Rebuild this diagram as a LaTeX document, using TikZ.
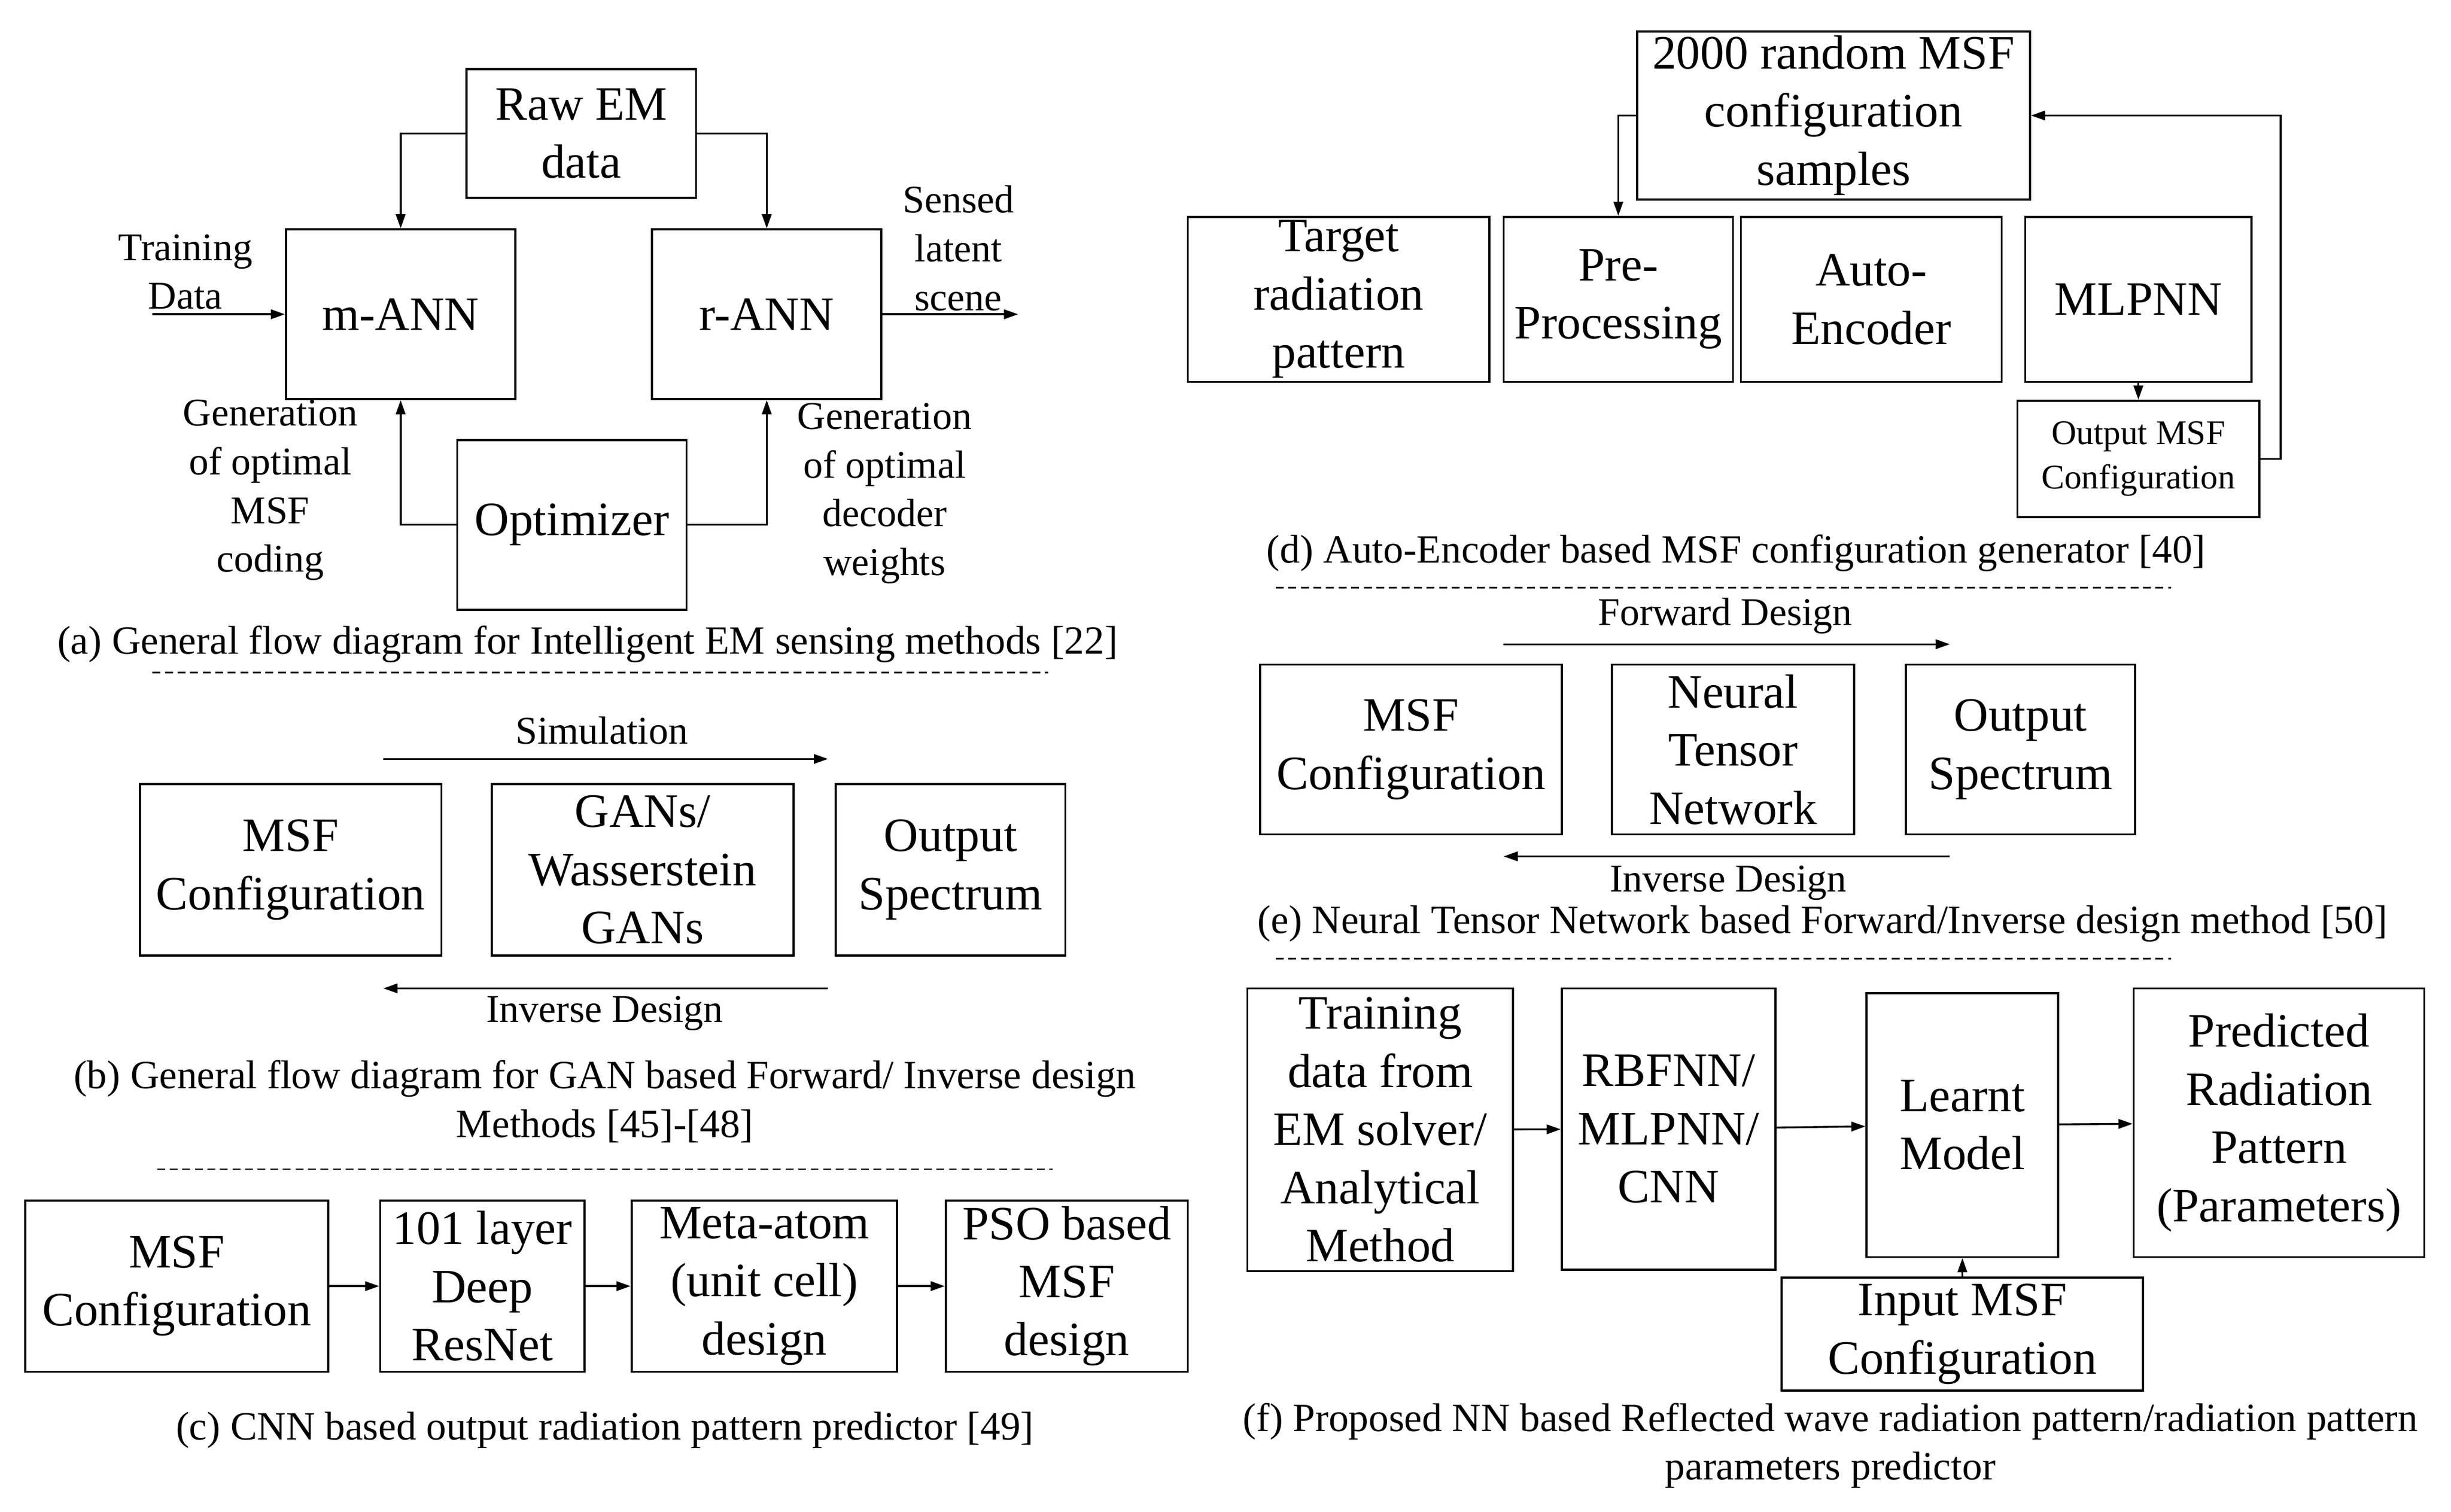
\documentclass[tikz,border=0pt]{standalone}
\usepackage{fontspec}
\setmainfont{Liberation Serif}
\usetikzlibrary{arrows.meta}
\begin{document}
\begin{tikzpicture}[x=1pt,y=-1pt,
  box/.style={draw,line width=1.3pt,align=center,inner sep=0pt,font=\fontsize{30.5}{37}\selectfont},
  lab/.style={align=center,inner sep=0pt,font=\fontsize{25}{31}\selectfont},
  capt/.style={align=center,inner sep=0pt,font=\fontsize{25.5}{31}\selectfont},
  ar/.style={line width=1.2pt,-{Triangle[length=9pt,width=6pt]}},
  dsh/.style={line width=1pt,dash pattern=on 5pt off 3pt}]
\useasboundingbox (0,0) rectangle (1560,962);
% (a)
\node[box,minimum width=146,minimum height=82] (raw) at (370,85) {Raw EM\\data};
\node[box,minimum width=146,minimum height=108] (mann) at (255,200) {m-ANN};
\node[box,minimum width=146,minimum height=108] (rann) at (488,200) {r-ANN};
\node[box,minimum width=146,minimum height=108] (opt) at (364,334) {Optimizer};
\draw[ar] (raw.west) -| (mann.north);
\draw[ar] (raw.east) -| (rann.north);
\draw[ar] (opt.west) -| (mann.south);
\draw[ar] (opt.east) -| (rann.south);
\coordinate (tin) at (97,200);
\coordinate (sout) at (648,200);
\draw[ar] (tin) -- (mann.west);
\draw[ar] (rann.east) -- (sout);
\node[lab] (tl) at (118,173) {Training\\Data};
\node[lab] (sl) at (610,158) {Sensed\\latent\\scene};
\node[lab] (gl) at (172,312) {Generation\\of optimal\\MSF\\coding};
\node[lab] (gr) at (563,314) {Generation\\of optimal\\decoder\\weights};
\node[capt] (capa) at (374,410) {(a) General flow diagram for Intelligent EM sensing methods [22]};
\draw[dsh] (97,428) -- (667,428);
% (b)
\node[lab] (sim) at (383,465) {Simulation};
\coordinate (s1) at (244,483); \coordinate (s2) at (527,483);
\draw[ar] (s1) -- (s2);
\node[box,minimum width=192,minimum height=109] (b1) at (185,553.5) {MSF\\Configuration};
\node[box,minimum width=192,minimum height=109] (b2) at (409,553.5) {GANs/\\Wasserstein\\GANs};
\node[box,minimum width=146,minimum height=109] (b3) at (605,553.5) {Output\\Spectrum};
\coordinate (i1) at (527,629); \coordinate (i2) at (244,629);
\draw[ar] (i1) -- (i2);
\node[lab] (inv) at (385,645) {Inverse Design};
\node[capt] (capb) at (385,701) {(b) General flow diagram for GAN based Forward/ Inverse design\\Methods [45]-[48]};
\draw[dsh] (100,744) -- (670,744);
% (c)
\node[box,minimum width=193,minimum height=109] (c1) at (112.5,818.5) {MSF\\Configuration};
\node[box,minimum width=130,minimum height=109] (c2) at (307,818.5) {101 layer\\Deep\\ResNet};
\node[box,minimum width=169,minimum height=109] (c3) at (486.5,818.5) {Meta-atom\\(unit cell)\\design};
\node[box,minimum width=154,minimum height=109] (c4) at (679,818.5) {PSO based\\MSF\\design};
\draw[ar] (c1) -- (c2); \draw[ar] (c2) -- (c3); \draw[ar] (c3) -- (c4);
\node[capt] (capc) at (385,910) {(c) CNN based output radiation pattern predictor [49]};
% (d)
\node[box,minimum width=250,minimum height=107] (d0) at (1167,73.5) {2000 random MSF\\configuration\\samples};
\node[box,minimum width=192,minimum height=105] (d1) at (852,190.5) {Target\\radiation\\pattern};
\node[box,minimum width=146,minimum height=105] (d2) at (1030,190.5) {Pre-\\Processing};
\node[box,minimum width=166,minimum height=105] (d3) at (1191,190.5) {Auto-\\Encoder};
\node[box,minimum width=144,minimum height=105] (d4) at (1361,190.5) {MLPNN};
\node[box,minimum width=154,minimum height=74,font=\fontsize{22}{28}\selectfont] (d5) at (1361,292) {Output MSF\\Configuration};
\draw[ar] (d4) -- (d5);
\draw[ar] (d5.east) -- ++(13,0) |- (d0.east);
\draw[ar] (d0.west) -| (d2.north);
\node[capt] (capd) at (1105,352) {(d) Auto-Encoder based MSF configuration generator [40]};
\draw[dsh] (812,374) -- (1382,374);
% (e)
\node[lab] (fwd) at (1098,392) {Forward Design};
\coordinate (f1a) at (957,410); \coordinate (f1b) at (1241,410);
\draw[ar] (f1a) -- (f1b);
\node[box,minimum width=192,minimum height=108] (e1) at (898,477) {MSF\\Configuration};
\node[box,minimum width=154,minimum height=108] (e2) at (1103,477) {Neural\\Tensor\\Network};
\node[box,minimum width=146,minimum height=108] (e3) at (1286,477) {Output\\Spectrum};
\coordinate (g1) at (1241,545); \coordinate (g2) at (957,545);
\draw[ar] (g1) -- (g2);
\node[lab] (inve) at (1100,562) {Inverse Design};
\node[capt] (cape) at (1160,588) {(e) Neural Tensor Network based Forward/Inverse design method [50]};
\draw[dsh] (812,610) -- (1382,610);
% (f)
\node[box,minimum width=169,minimum height=180] (f1) at (878.5,719) {Training\\data from\\EM solver/\\Analytical\\Method};
\node[box,minimum width=136,minimum height=179] (f2) at (1062,718.5) {RBFNN/\\MLPNN/\\CNN};
\node[box,minimum width=122,minimum height=168] (f3) at (1249,716) {Learnt\\Model};
\node[box,minimum width=185,minimum height=171] (f4) at (1450.5,714.5) {Predicted\\Radiation\\Pattern\\(Parameters)};
\node[box,minimum width=230,minimum height=72] (f5) at (1249,849) {Input MSF\\Configuration};
\draw[ar] (f1) -- (f2); \draw[ar] (f2) -- (f3); \draw[ar] (f3) -- (f4);
\draw[ar] (f5) -- (f3);
\node[capt] (capf) at (1165,920) {(f) Proposed NN based Reflected wave radiation pattern/radiation pattern\\parameters predictor};
\end{tikzpicture}
\end{document}
